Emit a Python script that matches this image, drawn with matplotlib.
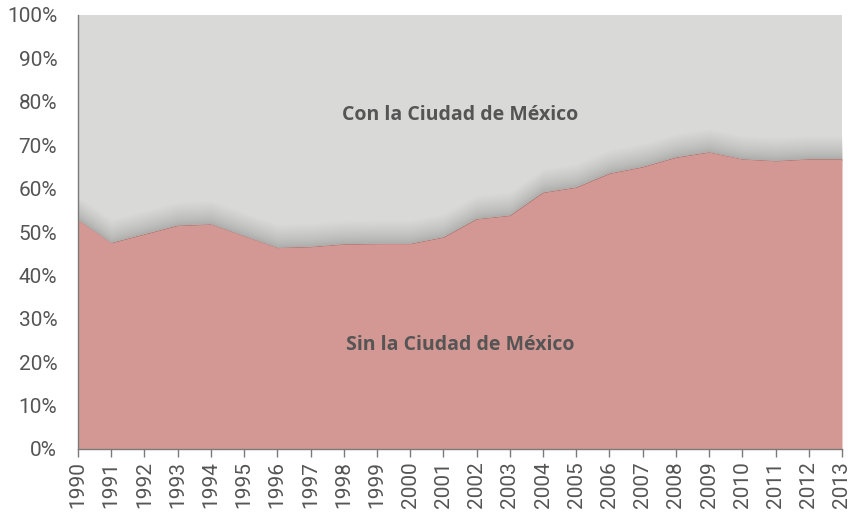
import matplotlib
matplotlib.use("Agg")
import matplotlib.pyplot as plt
import numpy as np

years = list(range(1990, 2014))
sin_cdmx = [52.8, 47.5, 49.5, 51.5, 51.8, 49.1, 46.4, 46.6, 47.2, 47.3, 47.3, 48.8,
            53.0, 53.8, 59.1, 60.3, 63.5, 65.0, 67.2, 68.4, 66.8, 66.4, 66.8, 66.8]
con_cdmx = [100 - v for v in sin_cdmx]
y_ticks = [0, 10, 20, 30, 40, 50, 60, 70, 80, 90, 100]
label_top = "Con la Ciudad de México"
label_bottom = "Sin la Ciudad de México"

pink = "#D39893"
grey = "#D9D9D8"
text_col = "#555555"
tick_col = "#555555"

fig = plt.figure(figsize=(8.55, 5.13), dpi=100)
ax = fig.add_axes([78/855, 1 - 449/513, (842 - 78)/855, (449 - 15)/513])

x = np.array(years)
s = np.array(sin_cdmx)
c = np.array(con_cdmx)

ax.stackplot(x, s, c, colors=[pink, grey], linewidth=0)

# soft shadow above the boundary
n = 50
for k in range(n):
    off = 5.5 * ((k + 1) / n) ** 1.5
    ax.fill_between(x, s - 0.5, s + off, color="black", alpha=0.0042, linewidth=0)
ax.fill_between(x, 0, s, color=pink, linewidth=0)

ax.set_xlim(1990, 2013)
ax.set_ylim(0, 100)
ax.set_xticks(years)
ax.set_xticklabels([str(y) for y in years], rotation=90, fontsize=15,
                   color=tick_col, family="Roboto", fontweight="normal")
ax.set_yticks(y_ticks)
ax.set_yticklabels([f"{v}%" for v in y_ticks], fontsize=15, color=tick_col,
                   family="Roboto", fontweight="normal")
ax.tick_params(axis="y", length=0, pad=15)
ax.tick_params(axis="x", length=6, width=1, color="#7a7a7a", pad=3)
for sp in ["top", "right"]:
    ax.spines[sp].set_visible(False)
for sp in ["left", "bottom"]:
    ax.spines[sp].set_color("#7a7a7a")
    ax.spines[sp].set_linewidth(1)

ax.text(2001.5, 77, label_top, ha="center", va="center", fontsize=14,
        fontweight="bold", color=text_col, family="Open Sans")
ax.text(2001.5, 24, label_bottom, ha="center", va="center", fontsize=14,
        fontweight="bold", color=text_col, family="Open Sans")

fig.savefig("out.png", dpi=100)
